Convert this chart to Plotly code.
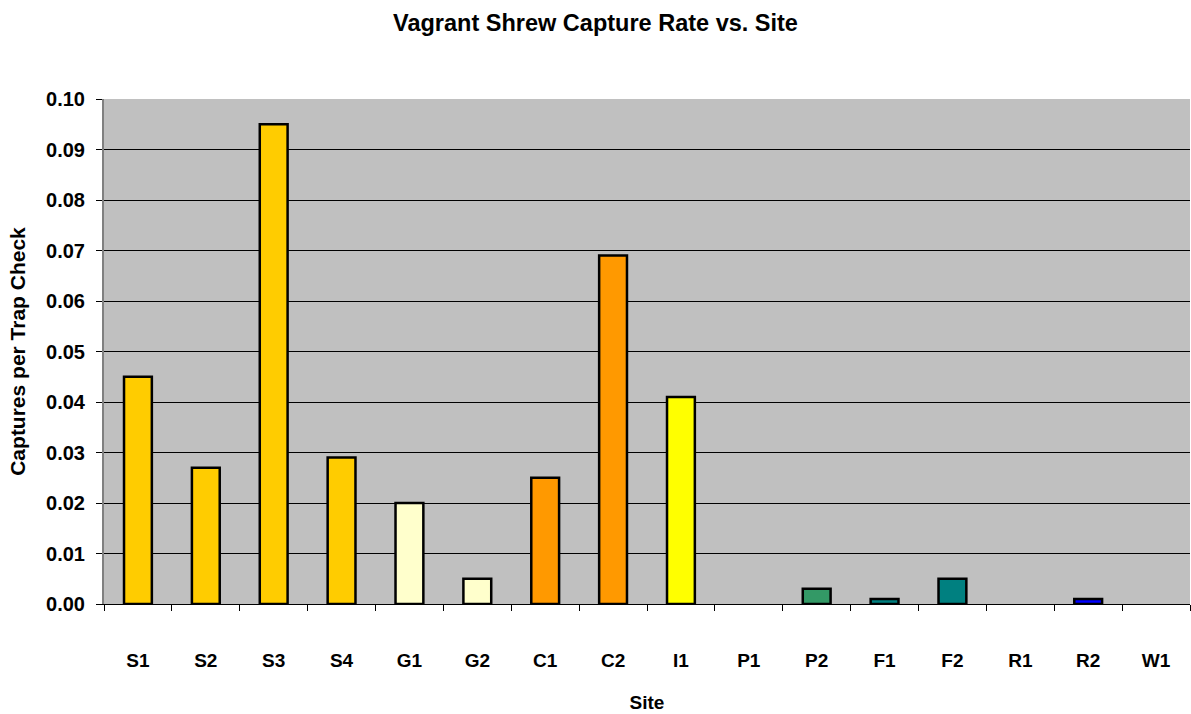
import plotly.graph_objects as go

sites = ["S1", "S2", "S3", "S4", "G1", "G2", "C1", "C2", "I1", "P1", "P2", "F1", "F2", "R1", "R2", "W1"]
rates = [0.045, 0.027, 0.095, 0.029, 0.020, 0.005, 0.025, 0.069, 0.041, 0.0, 0.003, 0.001, 0.005, 0.0, 0.001, 0.0]
colors = ["#FFCC00", "#FFCC00", "#FFCC00", "#FFCC00", "#FFFFCC", "#FFFFCC", "#FF9900", "#FF9900",
          "#FFFF00", "#339966", "#339966", "#008080", "#008080", "#0000FF", "#0000FF", "#0000FF"]
y_ticks = [0.0, 0.01, 0.02, 0.03, 0.04, 0.05, 0.06, 0.07, 0.08, 0.09, 0.10]

font_family = "Arial, Liberation Sans, sans-serif"
outline_widths = [2.5 if v > 0 else 0 for v in rates]

fig = go.Figure(go.Bar(
    x=sites, y=rates,
    marker=dict(color=colors, line=dict(color="black", width=outline_widths)),
    width=0.41,
))

fig.update_layout(
    width=1191, height=714,
    margin=dict(l=104, r=1, t=99, b=110),
    paper_bgcolor="white", plot_bgcolor="#C0C0C0",
    showlegend=False,
    font=dict(family=font_family, color="black"),
    title=dict(text="Vagrant Shrew Capture Rate vs. Site", x=0.5, xanchor="center",
               y=1 - 23 / 714, yanchor="middle",
               font=dict(size=23.5, weight="bold", family=font_family)),
)
fig.update_xaxes(
    type="category", tickson="boundaries", ticks="outside", ticklen=6, tickcolor="black",
    showline=True, linecolor="black", linewidth=1,
    tickfont=dict(size=19, weight="bold"), ticklabelstandoff=39,
    title=dict(text="Site", font=dict(size=19, weight="bold"), standoff=25),
    showgrid=False, automargin=False,
)
fig.update_yaxes(
    range=[0, 0.10], tickvals=y_ticks, tickformat=".2f",
    ticks="outside", ticklen=6, tickcolor="black",
    showline=True, linecolor="#808080", linewidth=2,
    showgrid=True, gridcolor="black", gridwidth=1,
    zeroline=False, automargin=False,
    tickfont=dict(size=20, weight="bold"), ticklabelstandoff=7,
    title=dict(text="Captures per Trap Check", font=dict(size=21, weight="bold"), standoff=15),
)

fig.write_html(
    "out.html",
    config={"displayModeBar": False},
    post_script="document.body.style.margin='0';document.body.style.overflow='hidden';",
)
